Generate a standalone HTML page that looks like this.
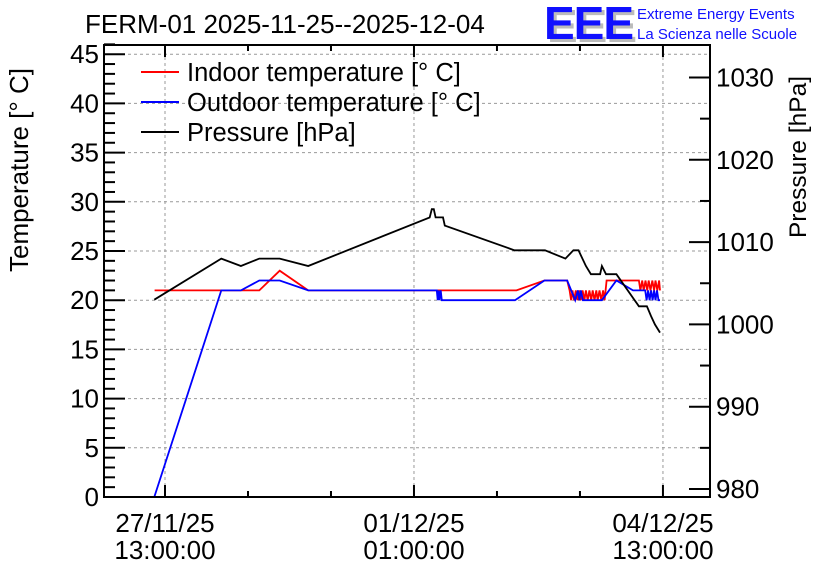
<!DOCTYPE html>
<html><head><meta charset="utf-8"><style>
body{margin:0;background:#fff;}
svg{display:block;font-family:"Liberation Sans",sans-serif;}
</style></head><body>
<svg id="c" width="836" height="572" viewBox="0 0 836 572">
<rect width="836" height="572" fill="#fff"/>
<text x="85" y="33" font-size="26">FERM-01 2025-11-25--2025-12-04</text>
<g>
<text x="547" y="42" font-size="46" font-weight="bold" fill="#bbb" letter-spacing="-1">EEE</text>
<text x="544" y="39" font-size="46" font-weight="bold" fill="#1010ff" letter-spacing="-1">EEE</text>
<text x="637" y="19" font-size="15" fill="#1010ff">Extreme Energy Events</text>
<text x="637" y="39" font-size="15" fill="#1010ff">La Scienza nelle Scuole</text>
</g>
<text transform="translate(28,170) rotate(-90)" text-anchor="middle" font-size="26">Temperature [° C]</text>
<text transform="translate(806,157) rotate(-90)" text-anchor="middle" font-size="24.5">Pressure [hPa]</text>
<g id="grid"></g><g id="axes"></g><g id="series"></g>
<rect x="104" y="45" width="606" height="452" fill="none" stroke="#000" stroke-width="2"/>
<g>
<line x1="141" y1="72" x2="179" y2="72" stroke="#f00" stroke-width="2"/>
<text x="187" y="81" font-size="25.5">Indoor temperature [° C]</text>
<line x1="141" y1="102" x2="179" y2="102" stroke="#00f" stroke-width="2"/>
<text x="187" y="111" font-size="25.5">Outdoor temperature [° C]</text>
<line x1="141" y1="132" x2="179" y2="132" stroke="#000" stroke-width="2"/>
<text x="187" y="141" font-size="25.5">Pressure [hPa]</text>
</g>
</svg>
<script>
const xTickHours=[0,84,168];
const xTickLabels1=["27/11/25","01/12/25","04/12/25"];
const xTickLabels2=["13:00:00","01:00:00","13:00:00"];
const tTicks=[0,5,10,15,20,25,30,35,40,45];
const pTicks=[980,990,1000,1010,1020,1030];
const pHours=[-3.6,19,25.6,31.8,38.7,48.3,89.3,90,90.7,91.3,93.8,94.4,117.9,128.2,135.1,137.8,139.5,142,143.7,146.8,147.4,148.8,152.3,159.9,162.6,164,165.3,167];
const pValues=[1003,1008,1007.1,1008,1008,1007.1,1013,1014,1014,1013,1013,1012,1009,1009,1008,1009,1009,1007.1,1006.1,1006.1,1007.1,1006.1,1006.1,1002.2,1002.2,1001,1000,999];
const inHours=[-3.5,31.8,38.7,48.3,118.6,128,135.7,136.5,137,137.5,138,138.6,139.2,139.8,140.3,140.9,141.5,142,142.6,143.2,143.8,144.3,144.9,145.5,146,146.6,147.2,147.8,148.3,149,159.9,160.4,161,161.5,162.1,162.7,163.2,163.8,164.4,165,165.5,166.1,166.7,167];
const inValues=[21,21,23,21,21,22,22,21,20,21,20,21,20,21,20,21,20,21,20,21,20,21,20,21,20,21,20,21,20,22,22,21,22,21,22,21,22,21,22,21,22,21,22,21];
const outHours=[-3.6,19,25.6,31.8,38.7,48.3,91.7,92,92.3,92.6,93,93.4,118.1,128,135.7,138.4,139.3,139.8,140.3,141,147.4,152.3,157.9,162,162.5,163,163.5,164,164.5,165,165.5,166,166.5,167];
const outValues=[0,21,21,22,22,21,21,20,21,20,21,20,20,22,22,20,21,20,21,20,20,22,21,21,20,21,20,21,20,21,20,21,20,20];

const ns="http://www.w3.org/2000/svg";
const X=h=>165+2.964*h;
const YT=t=>497-t*9.84;
const YP=p=>489-(p-980)*8.23;
function mk(tag,attrs,parent){const e=document.createElementNS(ns,tag);for(const k in attrs)e.setAttribute(k,attrs[k]);parent.appendChild(e);return e;}
const grid=document.getElementById('grid'),axes=document.getElementById('axes'),series=document.getElementById('series');
for(let i=0;i<xTickHours.length;i++){
  const x=X(xTickHours[i]);
  const g=mk('line',{x1:x,y1:45,x2:x,y2:497,stroke:'#999','stroke-dasharray':'3,3'},grid);
  
  
  const t1=mk('text',{x:x,y:532,'text-anchor':'middle','font-size':'26'},axes);t1.textContent=xTickLabels1[i];
  
  
  const t2=mk('text',{x:x,y:559,'text-anchor':'middle','font-size':'26'},axes);t2.textContent=xTickLabels2[i];
  
  
}
for(let h=-28;h<=196;h+=28){const x=X(h);if(x<104||x>710)continue;
  const major=xTickHours.includes(h);const L=major?12:6;
  mk('line',{x1:x,y1:497,x2:x,y2:497-L,stroke:'#000','stroke-width':2},axes);
  mk('line',{x1:x,y1:45,x2:x,y2:45+L,stroke:'#000','stroke-width':2},axes);}
for(const t of tTicks){const y=YT(t);
  if(t>0){const g=mk('line',{x1:104,y1:y,x2:710,y2:y,stroke:'#999','stroke-dasharray':'3,3'},grid);
  
  }
  const tx=mk('text',{x:99,y:y+9,'text-anchor':'end','font-size':'26'},axes);tx.textContent=t;
  
  }
for(let t=0;t<=46;t++){const y=YT(t);mk('line',{x1:104,y1:y,x2:104+(t%5==0?21:11),y2:y,stroke:'#000','stroke-width':2},axes);}
for(const p of pTicks){const y=YP(p);
  const tx=mk('text',{x:716,y:y+9,'font-size':'26'},axes);tx.textContent=p;
  
  }
for(let p=980;p<=1035;p+=5){const y=YP(p);if(y<45)continue;mk('line',{x1:710,y1:y,x2:710-(p%10==0?21:10),y2:y,stroke:'#000','stroke-width':2},axes);}
function line(hs,vs,yf,col,name){
  const pts=hs.map((h,i)=>X(h).toFixed(1)+','+yf(vs[i]).toFixed(1)).join(' ');
  const e=mk('polyline',{points:pts,fill:'none',stroke:col,'stroke-width':1.8},series);
  
  
}
line(inHours,inValues,YT,'#f00','indoor-temperature-line');
line(outHours,outValues,YT,'#00f','outdoor-temperature-line');
line(pHours,pValues,YP,'#000','pressure-line');
</script>
</body></html>
